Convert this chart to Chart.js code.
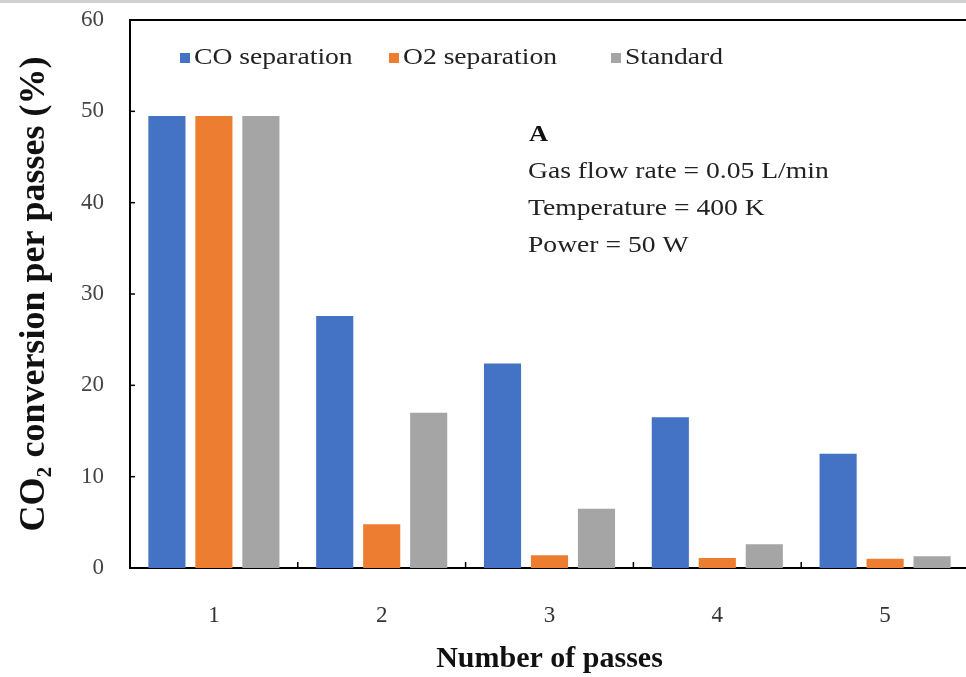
<!DOCTYPE html>
<html>
<head>
<meta charset="utf-8">
<script src="https://cdn.jsdelivr.net/npm/chart.js@4.4.0/dist/chart.umd.min.js"></script>
<style>
  html, body { margin: 0; padding: 0; background: #fff; overflow: hidden; }
  #wrap { width: 972px; height: 677px; }
</style>
</head>
<body>
<div id="wrap"><canvas id="grafico"></canvas></div>
<script>
// dados
const passes = ['1', '2', '3', '4', '5'];
const coSeparation = [49.5, 27.6, 22.4, 16.5, 12.5];
const o2Separation = [49.5, 4.8, 1.4, 1.1, 1.0];
const standard = [49.5, 17.0, 6.5, 2.6, 1.3];
const yTicks = [0, 10, 20, 30, 40, 50, 60];
const notes = ['Gas flow rate = 0.05 L/min', 'Temperature = 400 K', 'Power = 50 W'];

const serif = '"Liberation Serif", "Times New Roman", serif';

// legenda, anotação e moldura desenhadas à mão
const extras = {
  id: 'extras',
  afterDraw(chart) {
    const { ctx, chartArea } = chart;
    const yScale = chart.scales.y;
    ctx.save();
    // linha cinza no topo da imagem
    ctx.fillStyle = '#cfcfcf';
    ctx.fillRect(0, 0, chart.width, 3);
    // moldura: topo
    ctx.strokeStyle = '#000';
    ctx.lineWidth = 2;
    ctx.beginPath();
    ctx.moveTo(chartArea.left - 1, chartArea.top);
    ctx.lineTo(chartArea.right + 2, chartArea.top);
    ctx.stroke();
    // ticks para dentro
    ctx.lineWidth = 1.5;
    yTicks.forEach(v => {
      const y = yScale.getPixelForValue(v);
      ctx.beginPath();
      ctx.moveTo(chartArea.left, y);
      ctx.lineTo(chartArea.left + 5, y);
      ctx.stroke();
    });
    const catW = (chartArea.right - chartArea.left) / passes.length;
    for (let i = 1; i < passes.length; i++) {
      const x = chartArea.left + i * catW;
      ctx.beginPath();
      ctx.moveTo(x, chartArea.bottom);
      ctx.lineTo(x, chartArea.bottom - 6);
      ctx.stroke();
    }

    const stretchText = (txt, x, y, font, color) => {
      ctx.save();
      ctx.translate(x, y);
      ctx.scale(1.15, 1);
      ctx.font = font;
      ctx.fillStyle = color;
      ctx.textBaseline = 'middle';
      ctx.textAlign = 'left';
      ctx.fillText(txt, 0, 0);
      ctx.restore();
    };

    // legenda
    const legX = [180, 389, 611];
    chart.data.datasets.forEach((ds, i) => {
      ctx.fillStyle = ds.backgroundColor;
      ctx.fillRect(legX[i], 53, 10, 10);
      stretchText(ds.label, legX[i] + 14, 58, '24px ' + serif, '#222');
    });

    // anotação
    stretchText('A', 529, 135, 'bold 23px ' + serif, '#111');
    notes.forEach((t, i) => {
      stretchText(t, 528, 172 + i * 37, '24px ' + serif, '#222');
    });
    ctx.restore();
  }
};

const ctx = document.getElementById('grafico').getContext('2d');
new Chart(ctx, {
  type: 'bar',
  data: {
    labels: passes,
    datasets: [
      { label: 'CO separation', data: coSeparation, backgroundColor: '#4472C4' },
      { label: 'O2 separation', data: o2Separation, backgroundColor: '#ED7D31' },
      { label: 'Standard', data: standard, backgroundColor: '#A5A5A5' }
    ]
  },
  options: {
    responsive: true,
    maintainAspectRatio: false,
    animation: false,
    categoryPercentage: 0.84,
    barPercentage: 0.79,
    layout: { padding: { left: 0, top: 20, right: 3, bottom: 0 } },
    plugins: {
      legend: { display: false },
      tooltip: { enabled: false }
    },
    scales: {
      x: {
        grid: { display: false },
        border: { display: true, color: '#000', width: 2 },
        ticks: { color: '#333', padding: 26, font: { family: serif, size: 23 } },
        title: {
          display: true,
          text: 'Number of passes',
          color: '#111',
          font: { family: serif, size: 30, weight: 'bold' },
          padding: { top: 0, bottom: 0 }
        },
        afterFit(scale) { scale.height = 109; }
      },
      y: {
        min: 0,
        max: 60,
        grid: { display: false },
        border: { display: true, color: '#000', width: 2 },
        ticks: { stepSize: 10, color: '#444', padding: 18, font: { family: serif, size: 23 } },
        title: {
          display: true,
          text: 'CO₂ conversion per passes (%)',
          color: '#111',
          font: { family: serif, size: 36, weight: 'bold' },
          padding: { top: 13, bottom: 0 }
        },
        afterFit(scale) {
          scale.width = 130;
          scale.paddingTop = 0;
          scale.paddingBottom = 0;
        }
      }
    }
  },
  plugins: [extras]
});
</script>
</body>
</html>
